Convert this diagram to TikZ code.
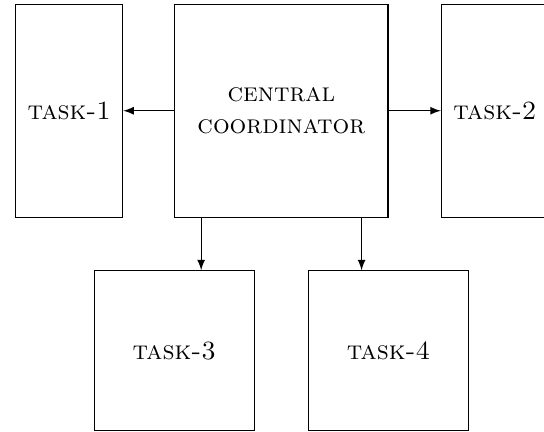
\documentclass[tikz,border=0pt]{standalone}
\usepackage{xcolor}
\usepackage{tikz}
\usetikzlibrary{positioning,shapes,arrows,calc}

\begin{document}
\begin{tikzpicture}[
    >=latex,
    block/.style={draw, rectangle, inner sep=0pt, align=center, font=\scshape},
    tallblock/.style={block, minimum width=1.43cm, minimum height=2.85cm},
    squareblock/.style={block, minimum size=2.14cm}
]
    \useasboundingbox (-3.76,1.48) rectangle (3.51,-4.29);
    % coordinator in the middle, tasks around it
    \node[block, minimum size=2.85cm] (coord) {central\\coordinator};
    \node[tallblock, left=0.68cm of coord] (task1) {task-1};
    \node[tallblock, right=0.7cm of coord] (task2) {task-2};
    \node[squareblock, below=0.7cm of coord.south west] (task3) {task-3};
    \node[squareblock, below=0.7cm of coord.south east] (task4) {task-4};

    \draw[->] (coord.west) -- (task1.east);
    \draw[->] (coord.east) -- (task2.west);
    \draw[->] ([xshift=0.36cm]coord.south west) -- ([xshift=0.36cm]coord.south west |- task3.north);
    \draw[->] ([xshift=-0.36cm]coord.south east) -- ([xshift=-0.36cm]coord.south east |- task4.north);
\end{tikzpicture}
\end{document}
